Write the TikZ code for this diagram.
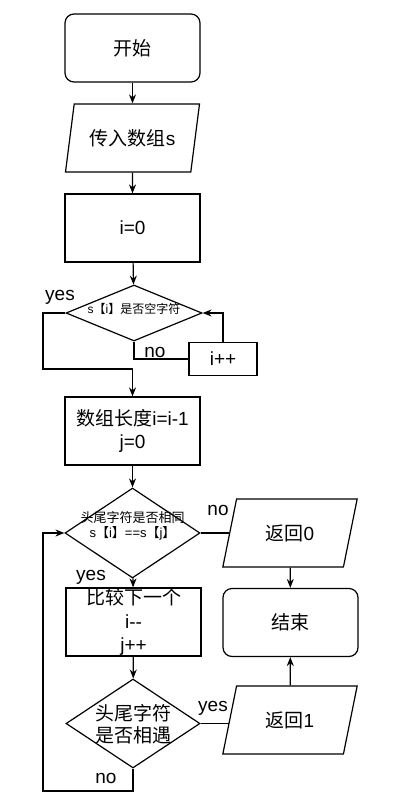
\documentclass[tikz,border=0pt]{standalone}
\usepackage{fontspec}
\setmainfont{Liberation Sans}
\newfontfamily\cjk{Noto Sans CJK SC}
\usetikzlibrary{shapes.geometric, positioning, arrows.meta, calc}

\begin{document}
\begin{tikzpicture}[x=1pt, y=-1pt,
        every node/.style={font=\fontsize{19}{23.5}\selectfont, inner sep=0pt},
        terminal/.style={rectangle, rounded corners=9pt, draw, line width=1.2pt, minimum width=135pt, minimum height=68pt},
        process/.style={rectangle, draw, line width=1.2pt, minimum width=135pt, minimum height=68pt, align=center},
        io/.style={trapezium, trapezium left angle=70, trapezium right angle=110, trapezium stretches=true, draw, line width=1.2pt, minimum width=135pt, minimum height=68pt},
        decision/.style={diamond, draw, line width=1.2pt},
        small/.style={font=\fontsize{12}{14}\selectfont, align=center},
        line/.style={draw, line width=1.2pt},
        arrow/.style={draw, line width=1.2pt, -{Stealth[length=9pt, width=7pt]}}
    ]
    \useasboundingbox (0,0) rectangle (409,808);

    \node[terminal] (start) at (132.5,48) {\cjk 开始};
    \node[io] (input) at (132.5,138) {{\cjk 传入数组}s};
    \node[process] (init) at (132.5,228) {i=0};
    \node[decision, minimum width=136pt, minimum height=56pt] (chk) at (134,313) {};
    \node[small] (chktxt) at (134,309) {s{\cjk 【}i{\cjk 】是否空字符}};
    \node[process, minimum width=68pt, minimum height=33pt] (inc) at (223,359) {i++};
    \node[process] (len) at (132.5,431) {{\cjk 数组长度}i=i-1\\j=0};
    \node[decision, minimum width=135pt, minimum height=90pt] (cmp) at (132.5,533) {};
    \node[small, font=\fontsize{13}{15}\selectfont] (cmptxt) at (132.5,526) {{\cjk 头尾字符是否相同}\\s{\cjk 【}i{\cjk 】}==s{\cjk 【}j{\cjk 】}};
    \node[io] (ret0) at (290,533) {{\cjk 返回}0};
    \node[terminal] (stop) at (290.5,622.5) {\cjk 结束};
    \node[process] (next) at (133.5,622) {{\cjk 比较下一个}\\i-{}-\\j++};
    \node[decision, minimum width=134pt, minimum height=89pt] (meet) at (133,723.5) {};
    \node[align=center, font=\fontsize{19}{22}\selectfont] (meettxt) at (133,724) {\cjk 头尾字符\\\cjk 是否相遇};
    \node[io] (ret1) at (290,720) {{\cjk 返回}1};

    \coordinate (yesbend) at (43,369);
    \coordinate (loopbend) at (43,791);

    \draw[arrow] (start) -- (input);
    \draw[arrow] (input) -- (init);
    \draw[arrow] (init) -- (chk);
    \draw[arrow] (chk.west) -| (yesbend) -| (len.north);
    \draw[line] (chk.south) |- (inc.west);
    \draw[arrow] (inc.north) |- (chk.east);
    \draw[arrow] (len) -- (cmp);
    \draw[line] (cmp.east) -- (cmp.east -| ret0.west);
    \draw[arrow] (ret0) -- (stop);
    \draw[arrow] (cmp) -- (next);
    \draw[arrow] (next) -- (meet);
    \draw[line] (meet.east) -- (meet.east -| ret1.west);
    \draw[arrow] (ret1) -- (stop);
    \draw[arrow] (meet.south) |- (loopbend) |- (cmp.west);

    \node (yes1) at (60,297) {yes};
    \node (no1) at (155,352) {no};
    \node (no2) at (218,510) {no};
    \node (yes2) at (91,577) {yes};
    \node (yes3) at (213,708) {yes};
    \node (no3) at (106,778) {no};
\end{tikzpicture}
\end{document}
